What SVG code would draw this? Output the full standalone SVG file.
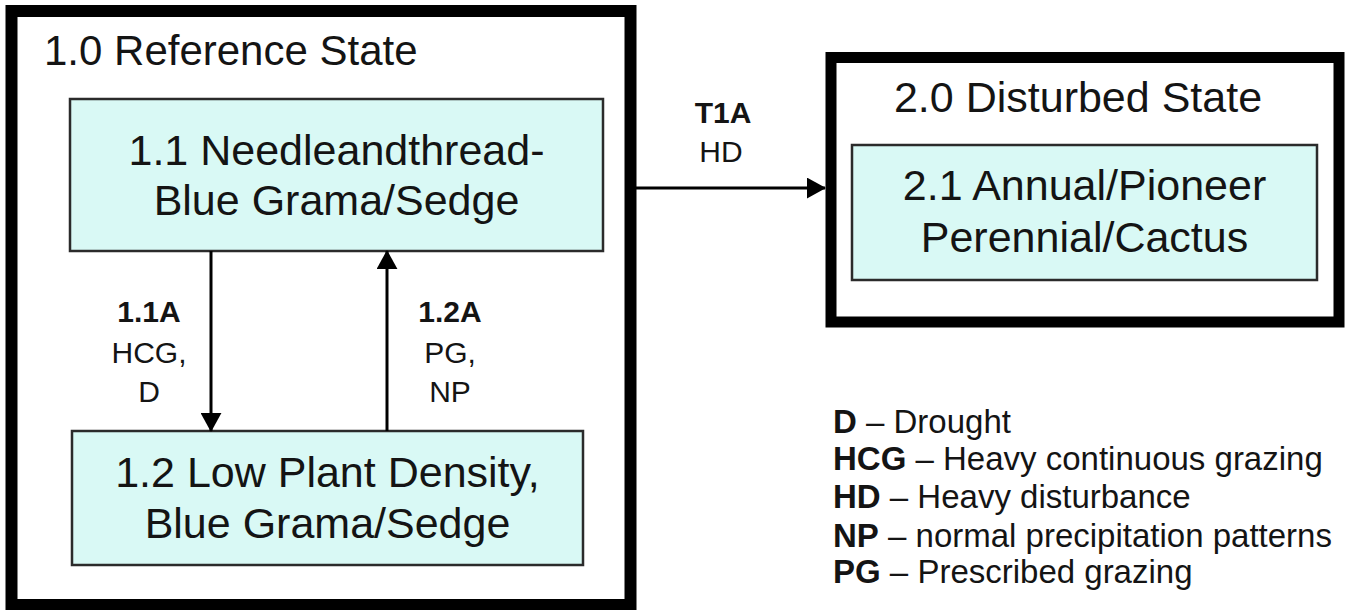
<svg xmlns="http://www.w3.org/2000/svg" width="1347" height="610" viewBox="0 0 1347 610">
<defs>
<style>
.state{fill:#ffffff;stroke:#000000;stroke-width:12}
.comm{fill:#d9f9f5;stroke:#2b2b2b;stroke-width:2.5}
.t{font-family:"Liberation Sans",Arial,sans-serif;fill:#141414}
.big{font-size:43px;text-anchor:middle}
.title{font-size:42px}
.lab{font-size:30px;text-anchor:middle}
.leg{font-size:33px}
.b{font-weight:bold}
.conn{stroke:#000000;stroke-width:3;fill:none}
</style>
<marker id="ah" viewBox="0 0 20 22" refX="19" refY="11" markerWidth="19" markerHeight="21" markerUnits="userSpaceOnUse" orient="auto">
<path d="M0,0 L20,11 L0,22 Z" fill="#000000"/>
</marker>
</defs>
<rect width="1347" height="610" fill="#ffffff"/>
<g id="state1">
<rect class="state" x="11.5" y="11" width="619" height="594"/>
<text class="t title" x="44" y="65">1.0 Reference State</text>
</g>
<g id="comm11">
<rect class="comm" x="70" y="99" width="533" height="152"/>
<text class="t big" x="336.5" y="165">1.1 Needleandthread-</text>
<text class="t big" x="336.5" y="215">Blue Grama/Sedge</text>
</g>
<g id="comm12">
<rect class="comm" x="72" y="431" width="511" height="134"/>
<text class="t big" x="327.5" y="487">1.2 Low Plant Density,</text>
<text class="t big" x="327.5" y="538">Blue Grama/Sedge</text>
</g>
<g id="state2">
<rect class="state" x="831" y="57.5" width="508" height="264.5" style="stroke-width:11"/>
<text class="t big" x="1078" y="112">2.0 Disturbed State</text>
</g>
<g id="comm21">
<rect class="comm" x="852" y="145" width="465" height="135"/>
<text class="t big" x="1084.5" y="200">2.1 Annual/Pioneer</text>
<text class="t big" x="1084.5" y="252">Perennial/Cactus</text>
</g>
<g id="connectors">
<line class="conn" x1="211" y1="251" x2="211" y2="431" marker-end="url(#ah)"/>
<line class="conn" x1="387" y1="431" x2="387" y2="251" marker-end="url(#ah)"/>
<line class="conn" x1="636" y1="188" x2="825" y2="188" marker-end="url(#ah)"/>
<text class="t lab b" x="149" y="322">1.1A</text>
<text class="t lab" x="149" y="363">HCG,</text>
<text class="t lab" x="149" y="402">D</text>
<text class="t lab b" x="450" y="322">1.2A</text>
<text class="t lab" x="450" y="363">PG,</text>
<text class="t lab" x="450" y="402">NP</text>
<text class="t lab b" x="723" y="123">T1A</text>
<text class="t lab" x="721" y="162">HD</text>
</g>
<g id="legend">
<text class="t leg" x="833" y="433"><tspan class="b">D</tspan> – Drought</text>
<text class="t leg" x="833" y="470"><tspan class="b">HCG</tspan> – Heavy continuous grazing</text>
<text class="t leg" x="833" y="508"><tspan class="b">HD</tspan> – Heavy disturbance</text>
<text class="t leg" x="833" y="547"><tspan class="b">NP</tspan> – normal precipitation patterns</text>
<text class="t leg" x="833" y="583"><tspan class="b">PG</tspan> – Prescribed grazing</text>
</g>
</svg>
